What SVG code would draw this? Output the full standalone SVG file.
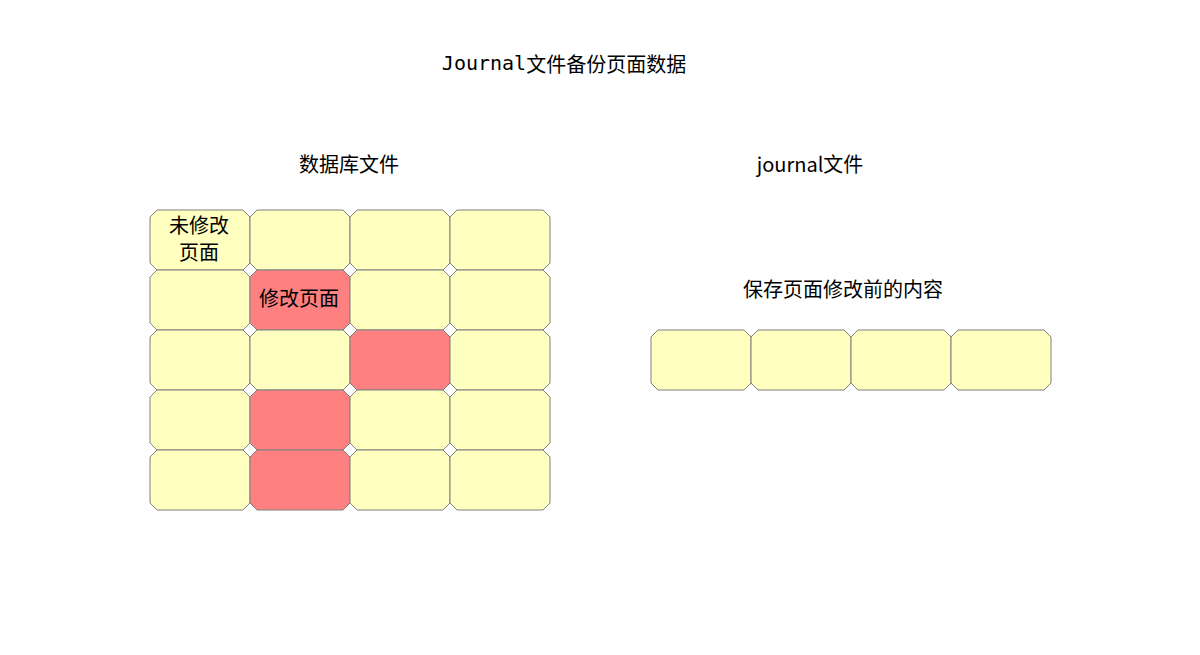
<svg xmlns="http://www.w3.org/2000/svg" width="1200" height="655" viewBox="0 0 1200 655">
<defs>
<style>
.c{fill:#FFFFC0;stroke:#808080;stroke-width:1}
.r{fill:#FF8080;stroke:#808080;stroke-width:1}
.t{font-family:"Noto Sans CJK SC","Liberation Sans",sans-serif;font-size:20px;fill:#000;text-anchor:middle;dominant-baseline:central}
.m{font-family:"DejaVu Sans Mono","Noto Sans CJK SC",monospace;font-size:20px;fill:#000;text-anchor:middle;dominant-baseline:central}
</style>
<path id="oct" d="M7,0 H93 L100,7 V53 L93,60 H7 L0,53 V7 Z"/>
</defs>
<rect width="1200" height="655" fill="#fff"/>
<g id="title"><text class="m" x="564" y="63">Journal<tspan style="font-family:'Noto Sans CJK SC',sans-serif">文件备份页面数据</tspan></text></g>
<g id="db-label"><text class="t" x="349" y="163">数据库文件</text></g>
<g id="journal-label"><text class="t" x="810" y="163">journal文件</text></g>
<g id="journal-sub"><text class="t" x="843" y="288">保存页面修改前的内容</text></g>
<g id="db">
<g id="db-r0c0"><use href="#oct" class="c" x="150" y="210"/><text class="t" x="199" y="224">未修改</text><text class="t" x="199" y="251">页面</text></g>
<g id="db-r0c1"><use href="#oct" class="c" x="250" y="210"/></g>
<g id="db-r0c2"><use href="#oct" class="c" x="350" y="210"/></g>
<g id="db-r0c3"><use href="#oct" class="c" x="450" y="210"/></g>
<g id="db-r1c0"><use href="#oct" class="c" x="150" y="270"/></g>
<g id="db-r1c1"><use href="#oct" class="r" x="250" y="270"/><text class="t" x="299" y="297">修改页面</text></g>
<g id="db-r1c2"><use href="#oct" class="c" x="350" y="270"/></g>
<g id="db-r1c3"><use href="#oct" class="c" x="450" y="270"/></g>
<g id="db-r2c0"><use href="#oct" class="c" x="150" y="330"/></g>
<g id="db-r2c1"><use href="#oct" class="c" x="250" y="330"/></g>
<g id="db-r2c2"><use href="#oct" class="r" x="350" y="330"/></g>
<g id="db-r2c3"><use href="#oct" class="c" x="450" y="330"/></g>
<g id="db-r3c0"><use href="#oct" class="c" x="150" y="390"/></g>
<g id="db-r3c1"><use href="#oct" class="r" x="250" y="390"/></g>
<g id="db-r3c2"><use href="#oct" class="c" x="350" y="390"/></g>
<g id="db-r3c3"><use href="#oct" class="c" x="450" y="390"/></g>
<g id="db-r4c0"><use href="#oct" class="c" x="150" y="450"/></g>
<g id="db-r4c1"><use href="#oct" class="r" x="250" y="450"/></g>
<g id="db-r4c2"><use href="#oct" class="c" x="350" y="450"/></g>
<g id="db-r4c3"><use href="#oct" class="c" x="450" y="450"/></g>
</g>
<g id="journal">
<g id="j0"><use href="#oct" class="c" x="651" y="330"/></g>
<g id="j1"><use href="#oct" class="c" x="751" y="330"/></g>
<g id="j2"><use href="#oct" class="c" x="851" y="330"/></g>
<g id="j3"><use href="#oct" class="c" x="951" y="330"/></g>
</g>
<g id="connectors"></g>
</svg>
